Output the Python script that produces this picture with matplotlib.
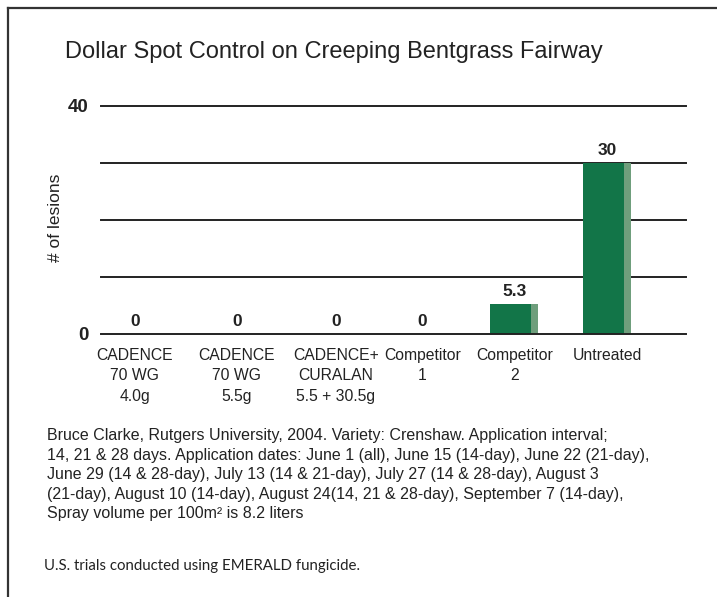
"""Dollar spot control bar chart"""
import matplotlib
matplotlib.use("Agg")
import matplotlib.pyplot as plt
from matplotlib.lines import Line2D

categories = ["CADENCE\n70 WG\n4.0g", "CADENCE\n70 WG\n5.5g", "CADENCE+\nCURALAN\n5.5 + 30.5g",
              "Competitor\n1", "Competitor\n2", "Untreated"]
lesions = [0, 0, 0, 0, 5.3, 30]
value_labels = ["0", "0", "0", "0", "5.3", "30"]
yticks = [0, 40]
grid_levels = [0, 10, 20, 30, 40]

title = "Dollar Spot Control on Creeping Bentgrass Fairway"
note = ("Bruce Clarke, Rutgers University, 2004. Variety: Crenshaw. Application interval;\n"
        "14, 21 & 28 days. Application dates: June 1 (all), June 15 (14-day), June 22 (21-day),\n"
        "June 29 (14 & 28-day), July 13 (14 & 21-day), July 27 (14 & 28-day), August 3\n"
        "(21-day), August 10 (14-day), August 24(14, 21 & 28-day), September 7 (14-day),\n"
        "Spray volume per 100m\u00b2 is 8.2 liters")
footer = "U.S. trials conducted using EMERALD fungicide."

# category centres (not evenly spaced in the original)
xpos = [0, 1.0, 1.97, 2.82, 3.72, 4.63]
fam = ["Liberation Sans", "DejaVu Sans"]
dark = "#127548"
light = "#6f9e7c"
ink = "#222222"

W, H = 717, 597
fig = plt.figure(figsize=(W / 100, H / 100), dpi=100)
ax = fig.add_axes([101 / W, (H - 334) / H, (686 - 101) / W, (334 - 106) / H])

bw, sw = 0.40, 0.07
for x, v in zip(xpos, lesions):
    if v > 0:
        ax.bar(x - (bw + sw) / 2, v, width=bw, align="edge", color=dark, zorder=3)
        ax.bar(x - (bw + sw) / 2 + bw, v, width=sw, align="edge", color=light, zorder=3)

for x, v, s in zip(xpos, lesions, value_labels):
    ax.text(x, v + 0.9, s, ha="center", va="bottom", fontsize=12.5, fontweight="bold",
            family=fam, color=ink)

for g in grid_levels:
    ax.axhline(g, color=ink, lw=1.4, zorder=4 if g == 0 else 2, clip_on=False)

ax.set_xlim(-0.33, 5.4)
ax.set_ylim(0, 40)
for s in ax.spines.values():
    s.set_visible(False)
ax.set_yticks(yticks)
ax.set_yticklabels([str(t) for t in yticks], fontsize=13.5, fontweight="bold", family=fam,
                   color=ink)
ax.tick_params(axis="y", length=0, pad=9)
ax.set_xticks(xpos)
ax.set_xticklabels(categories, fontsize=11.3, family=fam, linespacing=1.45, color=ink)
ax.tick_params(axis="x", length=0, pad=10)
ax.set_ylabel("# of lesions", fontsize=12.5, family=fam, color=ink)
ax.yaxis.set_label_coords(-0.065, 0.51)

fig.text(65 / W, (H - 52) / H, title, fontsize=17, family=fam,
         va="center", ha="left", color=ink)
fig.text(47 / W, (H - 428) / H, note, fontsize=11.5, family=fam, va="top", ha="left",
         linespacing=1.38, color=ink)
fig.text(44 / W, (H - 566) / H, footer, fontsize=10.8, family=["Lato", "DejaVu Sans"],
         va="center", ha="left", color=ink)

# frame: top and left edges only
fig.add_artist(Line2D([8 / W, 1], [(H - 8) / H] * 2, color="#333333", lw=1.6))
fig.add_artist(Line2D([8 / W] * 2, [0, (H - 8) / H], color="#333333", lw=1.6))

fig.savefig("out.png", dpi=100)
